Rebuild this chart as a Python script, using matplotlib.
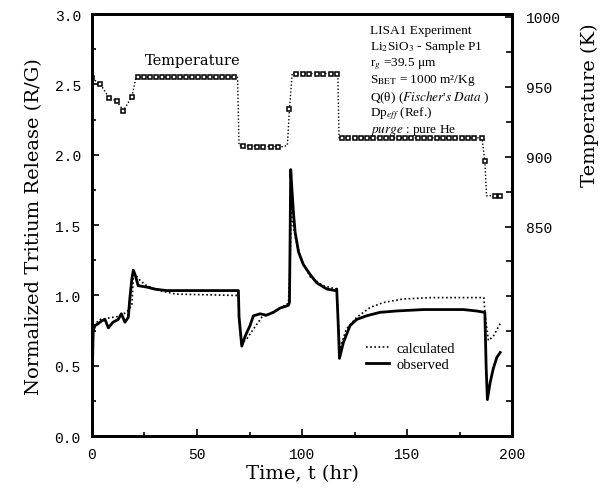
import numpy as np
import matplotlib
matplotlib.use("Agg")
import matplotlib.pyplot as plt

plt.rcParams['mathtext.fontset'] = 'stix'

# Observed normalized tritium release (solid)
t_obs = [0, 0.3, 0.6, 1.4, 3, 4.6, 6.2, 7.8, 10, 12.5, 14, 15.7, 17.3, 18, 19, 19.7,
         20.5, 22, 26, 30, 35.5, 50, 69.7, 70, 71.3, 72.9, 75.2, 76.8, 80, 83, 86.3,
         89.5, 93.5, 94.0, 94.3, 94.6, 95.2, 95.9, 96.7, 98.3, 100.6, 103.8, 107,
         111.8, 115.7, 116.5, 117.2, 117.8, 119.7, 122.8, 126, 130.8, 137, 145, 157.8,
         176.8, 183, 187, 187.6, 188.2, 189.5, 191, 192.7, 194.3]
observed = [0.28, 0.55, 0.75, 0.785, 0.80, 0.82, 0.83, 0.77, 0.81, 0.83, 0.87, 0.81,
            0.845, 0.975, 1.12, 1.18, 1.15, 1.07, 1.06, 1.045, 1.035, 1.035, 1.035,
            0.85, 0.64, 0.71, 0.785, 0.855, 0.87, 0.86, 0.88, 0.91, 0.93, 0.95, 1.40,
            1.895, 1.75, 1.59, 1.45, 1.31, 1.22, 1.15, 1.09, 1.046, 1.035, 1.046, 0.80,
            0.553, 0.667, 0.785, 0.83, 0.856, 0.88, 0.89, 0.90, 0.90, 0.89, 0.88, 0.50,
            0.26, 0.38, 0.48, 0.56, 0.595]

# Calculated release (dotted)
t_calc = [0, 0.5, 1.5, 4, 8, 12, 16.5, 19, 19.7, 20.5, 23, 26, 32, 40, 69.7, 70.2, 71,
          73.6, 76.8, 80.8, 84.8, 89.5, 93.5, 94.3, 94.8, 95.5, 97, 100, 104, 110,
          116.5, 117.3, 118, 121, 126, 132.4, 138.7, 148, 161, 175, 186.5, 187.2,
          188.7, 191, 194.3]
calculated = [0.70, 0.78, 0.80, 0.83, 0.84, 0.85, 0.88, 0.93, 1.14, 1.15, 1.105, 1.07,
              1.035, 1.01, 1.0, 0.80, 0.66, 0.69, 0.76, 0.845, 0.87, 0.91, 0.945, 1.20,
              1.615, 1.52, 1.40, 1.24, 1.13, 1.07, 1.045, 0.80, 0.62, 0.76, 0.845, 0.915,
              0.95, 0.975, 0.985, 0.985, 0.985, 0.85, 0.68, 0.71, 0.80]

# Temperature trace (dotted line) and its sampled points (square markers)
t_temp_line = [0, 4, 8.2, 11.7, 15, 19, 21, 69.3, 70, 90, 93, 94, 95.3, 117, 117.6,
               185.6, 187, 187.8, 194]
temp_line = [956, 952, 942, 940, 933, 943, 957, 957, 908, 907, 908, 934, 959.5, 959.5,
             913.5, 913.5, 897, 872, 872]

t_temp_pts = [0, 4, 8.2, 11.7, 15, 19,
              22, 24.9, 27.7, 30.6, 33.4, 36.3, 39.2, 42, 44.9, 47.7, 50.6, 53.5, 56.3,
              59.2, 62, 64.9, 67.8,
              72, 75.2, 78.4, 81.6, 85.1, 88.7,
              94,
              97.1, 100.3, 103.5, 107, 110.1, 113.7, 116.8,
              119, 122, 125, 128, 131, 134, 137, 140, 143, 146, 149, 152, 155, 158, 161,
              164, 167, 170, 173, 176, 179, 182, 185.5,
              187, 192, 194]
temp_pts = [956, 952, 942, 940, 933, 943,
            957, 957, 957, 957, 957, 957, 957, 957, 957, 957, 957, 957, 957,
            957, 957, 957, 957,
            908, 907, 907, 907, 907, 907,
            934,
            959.5, 959.5, 959.5, 959.5, 959.5, 959.5, 959.5,
            913.5, 913.5, 913.5, 913.5, 913.5, 913.5, 913.5, 913.5, 913.5, 913.5, 913.5,
            913.5, 913.5, 913.5, 913.5, 913.5, 913.5, 913.5, 913.5, 913.5, 913.5, 913.5,
            913.5,
            897, 872, 872]

info_lines = ["LISA1 Experiment",
              r"Li$_2$SiO$_3$ - Sample P1",
              r"r$_g$ =39.5 μm",
              r"S$_{\rm BET}$ = 1000 m²/Kg",
              r"Q(θ) ($\it{Fischer}$'$\it{s\ Data}$ )",
              r"Dp$_{eff}$ (Ref.)",
              r"$\it{purge}$ : pure He"]

fig = plt.figure(figsize=(6.09, 4.89), dpi=100)
ax = fig.add_axes([0.151, 0.106, 0.690, 0.863])
ax2 = ax.twinx()

ax.plot(t_calc, calculated, color='black', lw=1.2, ls=(0, (1, 1.5)), label='calculated')
ax.plot(t_obs, observed, color='black', lw=2.0, label='observed')

ax2.plot(t_temp_line, temp_line, color='black', lw=1.0, ls=(0, (1, 1.5)))
ax2.plot(t_temp_pts, temp_pts, ls='none', marker='s', ms=3.3, mfc='white',
         mec='black', mew=1.1)

ax.set_xlim(0, 200)
ax.set_ylim(0, 3.0)
ax2.set_ylim(701, 1002)

ax.set_xticks([0, 50, 100, 150, 200])
ax.set_xticks(np.arange(0, 201, 25), minor=True)
ax.set_yticks(np.arange(0, 3.01, 0.5))
ax.set_yticks(np.arange(0, 3.01, 0.25), minor=True)
ax.set_yticklabels(["0.0", "0.5", "1.0", "1.5", "2.0", "2.5", "3.0"])
ax2.set_yticks([850, 900, 950, 1000])
ax2.set_yticks(np.arange(700, 1001, 25), minor=True)

tick_font = {'family': 'Liberation Mono', 'size': 10.5}
for lab in ax.get_xticklabels() + ax.get_yticklabels() + ax2.get_yticklabels():
    lab.set_fontfamily(tick_font['family'])
    lab.set_fontsize(tick_font['size'])

ax.tick_params(which='both', direction='in', top=False, right=False, width=1.2)
ax.tick_params(which='major', length=5, pad=8)
ax.tick_params(which='minor', length=3)
ax2.tick_params(which='both', direction='in', width=1.2)
ax2.tick_params(which='major', length=5, pad=10)
ax2.tick_params(which='minor', length=4)

for a in (ax, ax2):
    for sp in a.spines.values():
        sp.set_linewidth(2.0)

ax.set_xlabel("Time, t (hr)", family='DejaVu Serif', fontsize=14, labelpad=2)
ax.set_ylabel("Normalized Tritium Release (R/G)", family='DejaVu Serif', fontsize=14,
              labelpad=8)
fig.text(0.968, 0.785, "Temperature (K)", family='DejaVu Serif', fontsize=14,
         rotation=90, ha='center', va='center')

ax.text(0.125, 0.883, "Temperature", transform=ax.transAxes, family='DejaVu Serif',
        fontsize=10.5)

y0 = 0.963
for i, line in enumerate(info_lines):
    ax.text(0.662, y0 - i * 0.0395, line, transform=ax.transAxes,
            family='Liberation Serif', fontsize=9.5, va='center')

ax.legend(loc='upper left', bbox_to_anchor=(0.62, 0.255), frameon=False,
          prop={'family': 'Liberation Serif', 'size': 10.5}, handlelength=1.6,
          handletextpad=0.5, labelspacing=0.2)

fig.savefig("out.png", dpi=100)
